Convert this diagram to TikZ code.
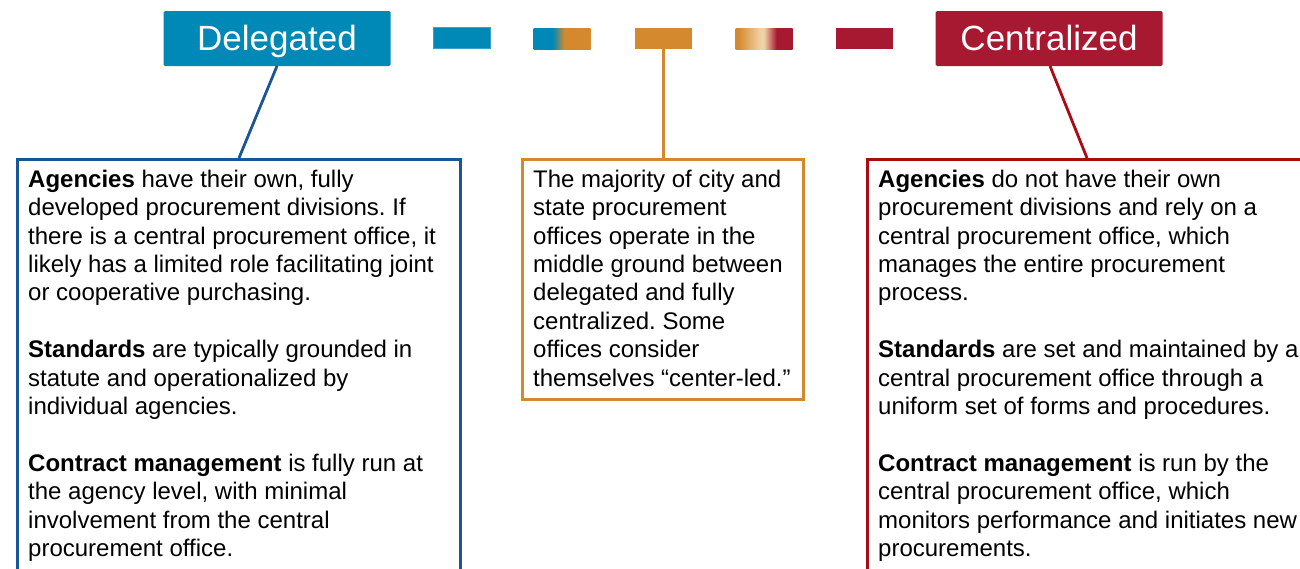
\documentclass[tikz,border=0pt]{standalone}
\usepackage{fontspec}
\setmainfont{Liberation Sans}
\frenchspacing
\definecolor{blueF}{RGB}{0,137,182}
\definecolor{blueE}{RGB}{60,160,205}
\definecolor{orangeF}{RGB}{212,137,46}
\definecolor{redF}{RGB}{167,25,48}
\definecolor{blueL}{RGB}{26,85,150}
\definecolor{redL}{RGB}{170,10,20}
\definecolor{beige}{RGB}{240,210,168}
\pgfdeclarehorizontalshading{bluetoorange}{100bp}{color(0bp)=(blueF); color(42bp)=(blueF); color(52bp)=(orangeF); color(100bp)=(orangeF)}
\pgfdeclarehorizontalshading{orangetored}{100bp}{color(0bp)=(orangeF); color(27bp)=(orangeF); color(47bp)=(beige); color(50bp)=(beige); color(61bp)=(redF); color(100bp)=(redF)}
\tikzset{
  title/.style={rectangle, rounded corners=1.5pt, minimum width=227pt, minimum height=55pt,
    inner sep=0pt, text=white, font=\fontsize{35}{40}\selectfont, text height=24pt, text depth=0pt},
  bar/.style={rectangle, minimum width=57pt, minimum height=21pt, inner sep=0pt},
  panel/.style={rectangle, line width=2.6pt, anchor=north west, inner sep=0pt},
  body/.style={anchor=north west, inner sep=0pt, align=left, font=\fontsize{24}{28.4}\selectfont},
  link/.style={line width=2.8pt}
}
\newcommand{\fs}{\rule{0pt}{18pt}}
\begin{document}
\begin{tikzpicture}[x=1pt,y=-1pt]
\useasboundingbox (0,0) rectangle (1300,568);
\clip (0,0) rectangle (1300,568);
\fill[white] (0,0) rectangle (1300,568);
% titles
\node[title, fill=blueF] (dtitle) at (277,38.5) {Delegated};
\node[title, fill=redF] (ctitle) at (1049,38.5) {Centralized};
% bars
\node[bar, fill=blueF, draw=blueE, line width=0.6pt] (bar1) at (461.5,38) {};
\node[bar, shading=bluetoorange] (bar2) at (562,38.5) {};
\node[bar, fill=orangeF] (bar3) at (663.5,38.5) {};
\node[bar, shading=orangetored] (bar4) at (764,38.5) {};
\node[bar, fill=redF] (bar5) at (864.5,38.5) {};
% panels
\node[panel, draw=blueL, minimum width=443pt, minimum height=460pt] (dbox) at (16,158) {};
\node[panel, draw=orangeF, minimum width=281pt, minimum height=240pt] (mbox) at (521,158) {};
\node[panel, draw=redL, minimum width=460pt, minimum height=460pt] (cbox) at (866,158) {};
% connector anchor points
\coordinate (dtop) at (239,158);
\coordinate (ctop) at (1087,158);
\coordinate (dbot) at (277,66);
\coordinate (cbot) at (1050,66);
\draw[link, blueL] (dbot) -- (dtop);
\draw[link, redL] (cbot) -- (ctop);
\draw[link, orangeF] (bar3.south) -- (bar3.south |- mbox.north);
% texts
\node[body] (dtext) at (28,169) {\fs\textbf{Agencies} have their own, fully\\
developed procurement divisions. If\\
there is a central procurement office, it\\
likely has a limited role facilitating joint\\
or cooperative purchasing.\\[28.4pt]
\textbf{Standards} are typically grounded in\\
statute and operationalized by\\
individual agencies.\\[28.4pt]
\textbf{Contract management} is fully run at\\
the agency level, with minimal\\
involvement from the central\\
procurement office.};
\node[body] (mtext) at (533,169) {\fs The majority of city and\\
state procurement\\
offices operate in the\\
middle ground between\\
delegated and fully\\
centralized. Some\\
offices consider\\
themselves “center-led.”};
\node[body] (ctext) at (878,169) {\fs\textbf{Agencies} do not have their own\\
procurement divisions and rely on a\\
central procurement office, which\\
manages the entire procurement\\
process.\\[28.4pt]
\textbf{Standards} are set and maintained by a\\
central procurement office through a\\
uniform set of forms and procedures.\\[28.4pt]
\textbf{Contract management} is run by the\\
central procurement office, which\\
monitors performance and initiates new\\
procurements.};
\end{tikzpicture}
\end{document}
